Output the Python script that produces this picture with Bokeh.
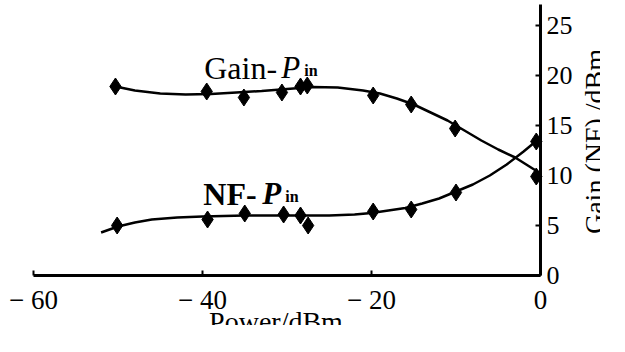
import math
from bokeh.plotting import figure
from bokeh.models import Range1d, FixedTicker
from bokeh.core.properties import value
from bokeh.embed import file_html
from bokeh.resources import INLINE

# Measured points (diamond markers)
gain_x = [-50.3, -39.5, -35.1, -30.6, -28.4, -27.6, -19.8, -15.3, -10.1, -0.5]
gain_y = [18.9, 18.4, 17.8, 18.3, 18.9, 19.0, 18.0, 17.1, 14.7, 9.9]
nf_x = [-50.1, -39.4, -35.0, -30.4, -28.4, -27.5, -19.8, -15.3, -10.0, -0.5]
nf_y = [5.0, 5.6, 6.2, 6.1, 6.0, 5.0, 6.4, 6.6, 8.3, 13.4]

# Fitted curves
gain_curve_x = [-50.3, -48, -45, -42, -39, -36, -33, -30, -27, -24, -21, -19, -17, -15, -13, -11, -9, -7, -5, -3, -1.5, 0]
gain_curve_y = [18.9, 18.5, 18.2, 18.1, 18.15, 18.3, 18.45, 18.65, 18.85, 18.8, 18.5, 18.2, 17.7, 17.1, 16.3, 15.5, 14.5, 13.5, 12.6, 11.8, 11.0, 10.2]
nf_curve_x = [-52, -50, -48, -46, -43, -40, -35, -30, -25, -22, -20, -18, -16, -14, -12, -10, -8, -6, -4, -2, 0]
nf_curve_y = [4.3, 4.9, 5.3, 5.6, 5.8, 5.9, 6.0, 6.0, 6.0, 6.1, 6.25, 6.5, 6.75, 7.2, 7.7, 8.4, 9.1, 10.0, 11.1, 12.4, 13.8]

x_ticks = [-60, -40, -20, 0]
x_tick_labels = ["\u2212 60", "\u2212 40", "\u2212 20", "0"]
y_ticks = [0, 5, 10, 15, 20, 25]
y_tick_labels = ["0", "5", "10", "15", "20", "25"]
x_title = "Power/dBm"
y_title = "Gain (NF) /dBm"

FONT = "Liberation Serif"

# fixed frame; axes sit at fixed data positions inside it
FRAME_W, FRAME_H = 600, 325
PX_X = 8.45   # pixels per dBm
PX_Y = 10.0   # pixels per dB
p = figure(frame_width=FRAME_W, frame_height=FRAME_H, output_backend="svg", toolbar_location=None,
           x_range=Range1d(-60 - 33 / PX_X, (FRAME_W - 540) / PX_X),
           y_range=Range1d(-(FRAME_H - 275) / PX_Y, 275 / PX_Y),
           x_axis_location="below", y_axis_location="right",
           min_border_left=0, min_border_right=0, min_border_top=0, min_border_bottom=0)
p.outline_line_color = None
p.grid.visible = False
p.background_fill_color = "white"
p.border_fill_color = "white"

for ax in (p.xaxis[0], p.yaxis[0]):
    ax.fixed_location = 0
    ax.axis_line_width = 3
    ax.axis_line_color = "black"
    ax.major_tick_line_width = 2
    ax.major_tick_in = 5
    ax.major_tick_out = 0
    ax.minor_tick_in = 0
    ax.minor_tick_out = 0
    ax.major_label_text_font_size = "0px"
    ax.axis_label = None

p.xaxis.ticker = FixedTicker(ticks=x_ticks)
p.xaxis.major_label_overrides = {t: "" for t in x_ticks}
p.xaxis.bounds = (-60, 0)
p.yaxis.ticker = FixedTicker(ticks=y_ticks)
p.yaxis.major_label_overrides = {t: "" for t in y_ticks}
p.yaxis.bounds = (0, 27.1)

# tick labels
p.text(x=x_ticks, y=[0] * len(x_ticks), text=x_tick_labels, y_offset=24,
       text_font=value(FONT), text_font_size="27px", text_align="center",
       text_baseline="alphabetic", text_color="black")
p.text(x=[0] * len(y_ticks), y=y_ticks, text=y_tick_labels, x_offset=6,
       text_font=value(FONT), text_font_size="26px", text_align="left",
       text_baseline="middle", text_color="black")

# axis titles (kept inside the frame)
p.text(x=[-60 + 242.5 / PX_X], y=[-46 / PX_Y], text=[x_title], text_font=value(FONT),
       text_font_size="28px", text_align="center", text_baseline="alphabetic", text_color="black")
p.text(x=[54 / PX_X], y=[134 / PX_Y], text=[y_title], angle=math.pi / 2, text_font=value(FONT),
       text_font_size="28px", text_align="center", text_baseline="alphabetic", text_color="black")

# curves
p.line(gain_curve_x, gain_curve_y, line_width=2.5, line_color="black")
p.line(nf_curve_x, nf_curve_y, line_width=2.5, line_color="black")
p.scatter(gain_x, gain_y, marker="diamond", size=17, fill_color="black", line_color="black")
p.scatter(nf_x, nf_y, marker="diamond", size=17, fill_color="black", line_color="black")

# curve annotations
p.text(x=[-39.8], y=[20.8], text=["Gain-"], text_font=value(FONT), text_font_size="32px",
       text_baseline="alphabetic", text_align="left", text_color="black")
p.text(x=[-39.8], y=[20.8], text=["P"], x_offset=77, text_font=value(FONT), text_font_size="31px",
       text_font_style="italic", text_baseline="alphabetic", text_align="left", text_color="black")
p.text(x=[-39.8], y=[20.8], text=["in"], x_offset=100, y_offset=3, text_font=value(FONT), text_font_size="16px",
       text_font_style="bold", text_baseline="alphabetic", text_align="left", text_color="black")

p.text(x=[-39.9], y=[8.2], text=["NF-"], text_font=value(FONT), text_font_size="32px",
       text_font_style="bold", text_baseline="alphabetic", text_align="left", text_color="black")
p.text(x=[-39.9], y=[8.2], text=["P"], x_offset=59, text_font=value(FONT), text_font_size="31px",
       text_font_style="bold italic", text_baseline="alphabetic", text_align="left", text_color="black")
p.text(x=[-39.9], y=[8.2], text=["in"], x_offset=82, y_offset=3, text_font=value(FONT), text_font_size="16px",
       text_font_style="bold", text_baseline="alphabetic", text_align="left", text_color="black")

open("out.html", "w").write(file_html(p, INLINE))
